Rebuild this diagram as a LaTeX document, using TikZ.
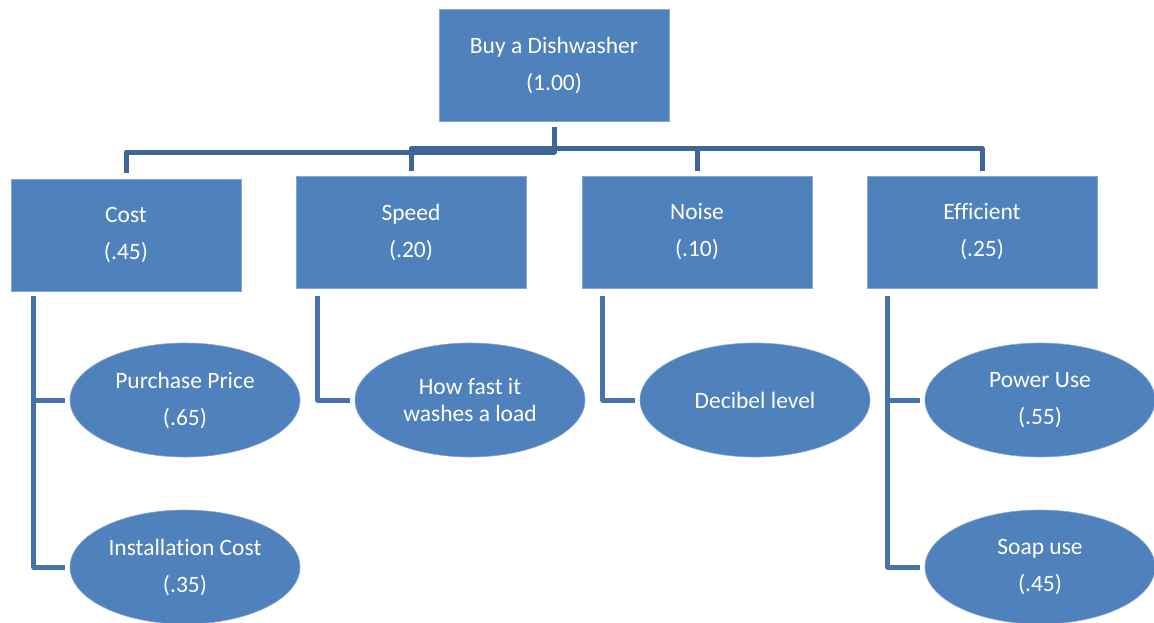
\documentclass[tikz,border=0pt]{standalone}
\usepackage{fontspec}
\setmainfont{Carlito}[Ligatures=NoCommon]
\usetikzlibrary{shapes.geometric}
\definecolor{boxblue}{HTML}{4F81BD}
\definecolor{busblue}{HTML}{3E6596}
\definecolor{branchblue}{HTML}{4673AB}
\tikzset{
  crit/.style={rectangle, fill=boxblue, draw=boxblue!70!white, line width=0.6pt,
    minimum width=230pt, minimum height=112pt, inner sep=0pt,
    text=white, align=center, font=\fontsize{23.5}{37}\selectfont},
  sub/.style={ellipse, fill=boxblue, draw=boxblue!70!white, line width=0.6pt,
    minimum width=230pt, minimum height=114pt, inner sep=0pt,
    text=white, align=center, font=\fontsize{23.5}{37}\selectfont},
  bus/.style={draw=busblue, line width=5pt, line join=round},
  branch/.style={draw=branchblue, line width=5pt, line join=round}
}
\begin{document}
\begin{tikzpicture}[x=1pt, y=-1pt]
\useasboundingbox (0,0) rectangle (1154,623);

% goal and criteria
\node[crit] (root) at (554,65) {Buy a Dishwasher\\(1.00)};
\node[crit] (cost) at (126,235) {Cost\\(.45)};
\node[crit] (speed) at (411,232) {Speed\\(.20)};
\node[crit] (noise) at (697,232) {Noise\\(.10)};
\node[crit] (eff) at (982,232) {Efficient\\(.25)};

% sub-criteria
\node[sub] (pp) at (185,400) {Purchase Price\\(.65)};
\node[sub] (ic) at (185,567) {Installation Cost\\(.35)};
\node[sub, font=\fontsize{23.5}{27}\selectfont] (fast) at (470,400) {How fast it\\washes a load};
\node[sub] (db) at (755,400) {Decibel level};
\node[sub] (pu) at (1040,400) {Power Use\\(.55)};
\node[sub] (soap) at (1040,567) {Soap use\\(.45)};

% connectors from the goal to the criteria
\coordinate (busL) at ([yshift=-31pt]root.south);
\coordinate (busR) at ([yshift=-27pt]root.south);
\draw[bus] ([yshift=-6pt]root.south) -- (busL) -| ([yshift=6pt]cost.north);
\draw[bus] ([yshift=5pt]speed.north) |- (busR) -| ([yshift=5pt]eff.north);
\draw[bus] ([yshift=5pt]noise.north) -- (noise.north |- busR);

% connectors from the criteria to the sub-criteria
\draw[branch] ([shift={(23pt,-5pt)}]cost.south west) |- ([xshift=-5pt]pp.west);
\draw[branch] ([shift={(23pt,-5pt)}]cost.south west) |- ([xshift=-5pt]ic.west);
\draw[branch] ([shift={(22pt,-8pt)}]speed.south west) |- ([xshift=-5pt]fast.west);
\draw[branch] ([shift={(21pt,-8pt)}]noise.south west) |- ([xshift=-5pt]db.west);
\draw[branch] ([shift={(21pt,-8pt)}]eff.south west) |- ([xshift=-5pt]pu.west);
\draw[branch] ([shift={(21pt,-8pt)}]eff.south west) |- ([xshift=-5pt]soap.west);
\end{tikzpicture}
\end{document}
